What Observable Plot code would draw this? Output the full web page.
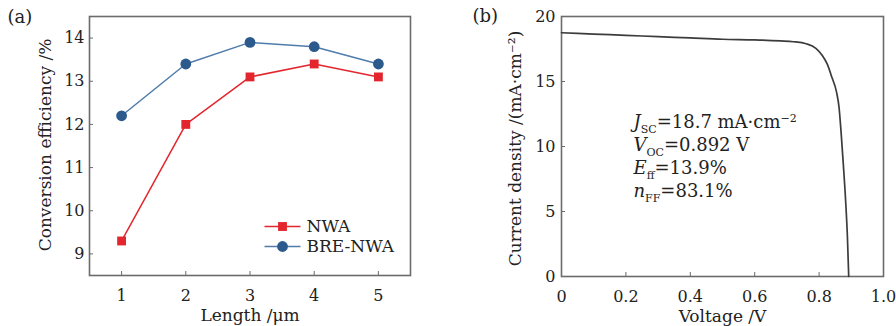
<!DOCTYPE html>
<html><head><meta charset="utf-8">
<script src="https://cdn.jsdelivr.net/npm/d3@7"></script>
<script src="https://cdn.jsdelivr.net/npm/@observablehq/plot@0.6"></script>
<style>
html,body{margin:0;padding:0;background:#fff;}
#wrap{display:flex;width:896px;height:326px;overflow:hidden;}
#wrap svg{overflow:visible;}
</style></head><body><div id="wrap"></div>
<script>
// ---- data: panel (a)
const lengths = [1, 2, 3, 4, 5];
const nwa = [9.3, 12.0, 13.1, 13.4, 13.1];
const breNwa = [12.2, 13.4, 13.9, 13.8, 13.4];
const seriesNames = ["NWA", "BRE-NWA"];
const effTicks = [9, 10, 11, 12, 13, 14];
// ---- data: panel (b)
const voltage = [0, 0.1, 0.2, 0.3, 0.4, 0.5, 0.6, 0.68, 0.72, 0.76, 0.79, 0.81, 0.825, 0.84, 0.854, 0.862, 0.868, 0.875, 0.882, 0.888, 0.892];
const current = [18.75, 18.65, 18.55, 18.45, 18.35, 18.25, 18.2, 18.12, 18.06, 17.9, 17.55, 17.0, 16.35, 15.3, 14.2, 13.0, 11.2, 8.7, 6.0, 3.0, 0];
const voltTicks = [0, 0.2, 0.4, 0.6, 0.8, 1.0];
const voltTickLabels = ["0", "0.2", "0.4", "0.6", "0.8", "1.0"];
const currentTicks = [0, 5, 10, 15, 20];
const annotationLines = ["*J*_{SC}=18.7 mA·cm^{−2}", "*V*_{OC}=0.892 V", "*E*_{ff}=13.9%", "*n*_{FF}=83.1%"];
const panelLabels = ["(a)", "(b)"];
const titles = {ax: "Length /μm", ay: "Conversion efficiency /%", bx: "Voltage /V", by: "Current density /(mA·cm⁻²)"};

const red = "#e3262e", blueLine = "#4f7cab", blueDot = "#2c5a8d", frameGray = "#6b6b6b", ink = "#222", curveInk = "#3c3c3c";
const font = "DejaVu Serif";

const nwaRows = lengths.map((L, i) => ({L, v: nwa[i]}));
const breRows = lengths.map((L, i) => ({L, v: breNwa[i]}));
const jvRows = voltage.map((V, i) => ({V, J: current[i]}));

const hline = {draw(ctx) { ctx.moveTo(-18, 0); ctx.lineTo(18, 0); }};

const plotA = Plot.plot({
  width: 448, height: 326,
  marginLeft: 89, marginRight: 38, marginTop: 16, marginBottom: 51,
  x: {domain: [0.5, 5.5]},
  y: {domain: [8.5, 14.5]},
  style: {fontFamily: font, fontSize: "16px", color: ink, background: "#fff"},
  marks: [
    Plot.frame({stroke: frameGray, strokeWidth: 1.6}),
    Plot.axisX({ticks: lengths, tickSize: -4, tickPadding: 18, stroke: frameGray, fill: ink, label: null, fontSize: 16, tickFormat: d => String(d)}),
    Plot.axisY({ticks: effTicks, tickSize: -4, tickPadding: 9, stroke: frameGray, fill: ink, label: null, fontSize: 16, tickFormat: d => String(d)}),
    Plot.line(nwaRows, {x: "L", y: "v", stroke: red, strokeWidth: 1.5}),
    Plot.line(breRows, {x: "L", y: "v", stroke: blueLine, strokeWidth: 1.5}),
    Plot.dot(nwaRows, {x: "L", y: "v", symbol: "square", r: 5, fill: red}),
    Plot.dot(breRows, {x: "L", y: "v", symbol: "circle", r: 5.4, fill: blueDot}),
    // legend
    Plot.dot([seriesNames[0]], {frameAnchor: "bottom-right", dx: -128, dy: -49, symbol: hline, stroke: red, strokeWidth: 1.5, fill: "none"}),
    Plot.dot([seriesNames[0]], {frameAnchor: "bottom-right", dx: -128, dy: -49, symbol: "square", r: 5, fill: red}),
    Plot.text([seriesNames[0]], {text: d => d, frameAnchor: "bottom-right", dx: -104, dy: -49, textAnchor: "start", lineAnchor: "middle", fontSize: 17, fill: ink}),
    Plot.dot([seriesNames[1]], {frameAnchor: "bottom-right", dx: -128, dy: -29, symbol: hline, stroke: blueLine, strokeWidth: 1.5, fill: "none"}),
    Plot.dot([seriesNames[1]], {frameAnchor: "bottom-right", dx: -128, dy: -29, symbol: "circle", r: 5.4, fill: blueDot}),
    Plot.text([seriesNames[1]], {text: d => d, frameAnchor: "bottom-right", dx: -104, dy: -29, textAnchor: "start", lineAnchor: "middle", fontSize: 17, fill: ink}),
    // titles
    Plot.text([panelLabels[0]], {text: d => d, frameAnchor: "top-left", dx: -82, dy: 1, textAnchor: "start", lineAnchor: "middle", fontSize: 18, fill: ink}),
    Plot.text([titles.ay], {text: d => d, frameAnchor: "left", rotate: -90, dx: -44, dy: -1, textAnchor: "middle", lineAnchor: "middle", fontSize: 17, fill: ink}),
    Plot.text([titles.ax], {text: d => d, frameAnchor: "bottom", dy: 40, textAnchor: "middle", lineAnchor: "middle", fontSize: 17, fill: ink})
  ]
});

const plotB = Plot.plot({
  width: 448, height: 326,
  marginLeft: 113, marginRight: 13, marginTop: 16, marginBottom: 50,
  x: {domain: [0, 1]},
  y: {domain: [0, 20]},
  style: {fontFamily: font, fontSize: "16px", color: ink, background: "#fff"},
  marks: [
    Plot.frame({stroke: frameGray, strokeWidth: 1.6}),
    Plot.axisX({ticks: voltTicks, tickSize: -4, tickPadding: 18, stroke: frameGray, fill: ink, label: null, fontSize: 16, tickFormat: d => voltTickLabels[voltTicks.indexOf(d)]}),
    Plot.axisY({ticks: currentTicks, tickSize: -4, tickPadding: 10, stroke: frameGray, fill: ink, label: null, fontSize: 16, tickFormat: d => String(d)}),
    Plot.line(jvRows, {x: "V", y: "J", stroke: curveInk, strokeWidth: 1.7, curve: "monotone-x"}),
    ...annotationLines.map((t, i) => Plot.text([t], {text: d => d, frameAnchor: "top-left", dx: 72, dy: 111 + i * 23.2, textAnchor: "start", lineAnchor: "bottom", fontSize: 18, fill: ink})),
    Plot.text([panelLabels[1]], {text: d => d, frameAnchor: "top-left", dx: -89, dy: 0, textAnchor: "start", lineAnchor: "middle", fontSize: 18, fill: ink}),
    Plot.text([titles.by], {text: d => d, frameAnchor: "left", rotate: -90, dx: -46, dy: 2, textAnchor: "middle", lineAnchor: "middle", fontSize: 17, fill: ink}),
    Plot.text([titles.bx], {text: d => d, frameAnchor: "bottom", dy: 40, textAnchor: "middle", lineAnchor: "middle", fontSize: 17, fill: ink})
  ]
});

function richify(svg) {
  d3.select(svg).selectAll("text").each(function () {
    const raw = this.textContent;
    if (!raw.includes("_{")) return;
    const sel = d3.select(this);
    sel.text(null);
    const re = /\*([^*]+)\*|_\{([^}]+)\}|\^\{([^}]+)\}|([^*_^]+)/g;
    let m, shift = 0;
    while ((m = re.exec(raw))) {
      const t = sel.append("tspan");
      let target = 0, txt;
      if (m[1]) { txt = m[1]; t.attr("font-style", "italic"); }
      else if (m[2]) { txt = m[2]; target = 5; t.attr("font-size", "11px"); }
      else if (m[3]) { txt = m[3]; target = -6; t.attr("font-size", "11px"); }
      else txt = m[4];
      if (target !== shift) { t.attr("dy", target - shift); shift = target; }
      t.text(txt);
    }
  });
}
richify(plotB);

const wrap = document.getElementById("wrap");
wrap.append(plotA, plotB);
</script></body></html>
